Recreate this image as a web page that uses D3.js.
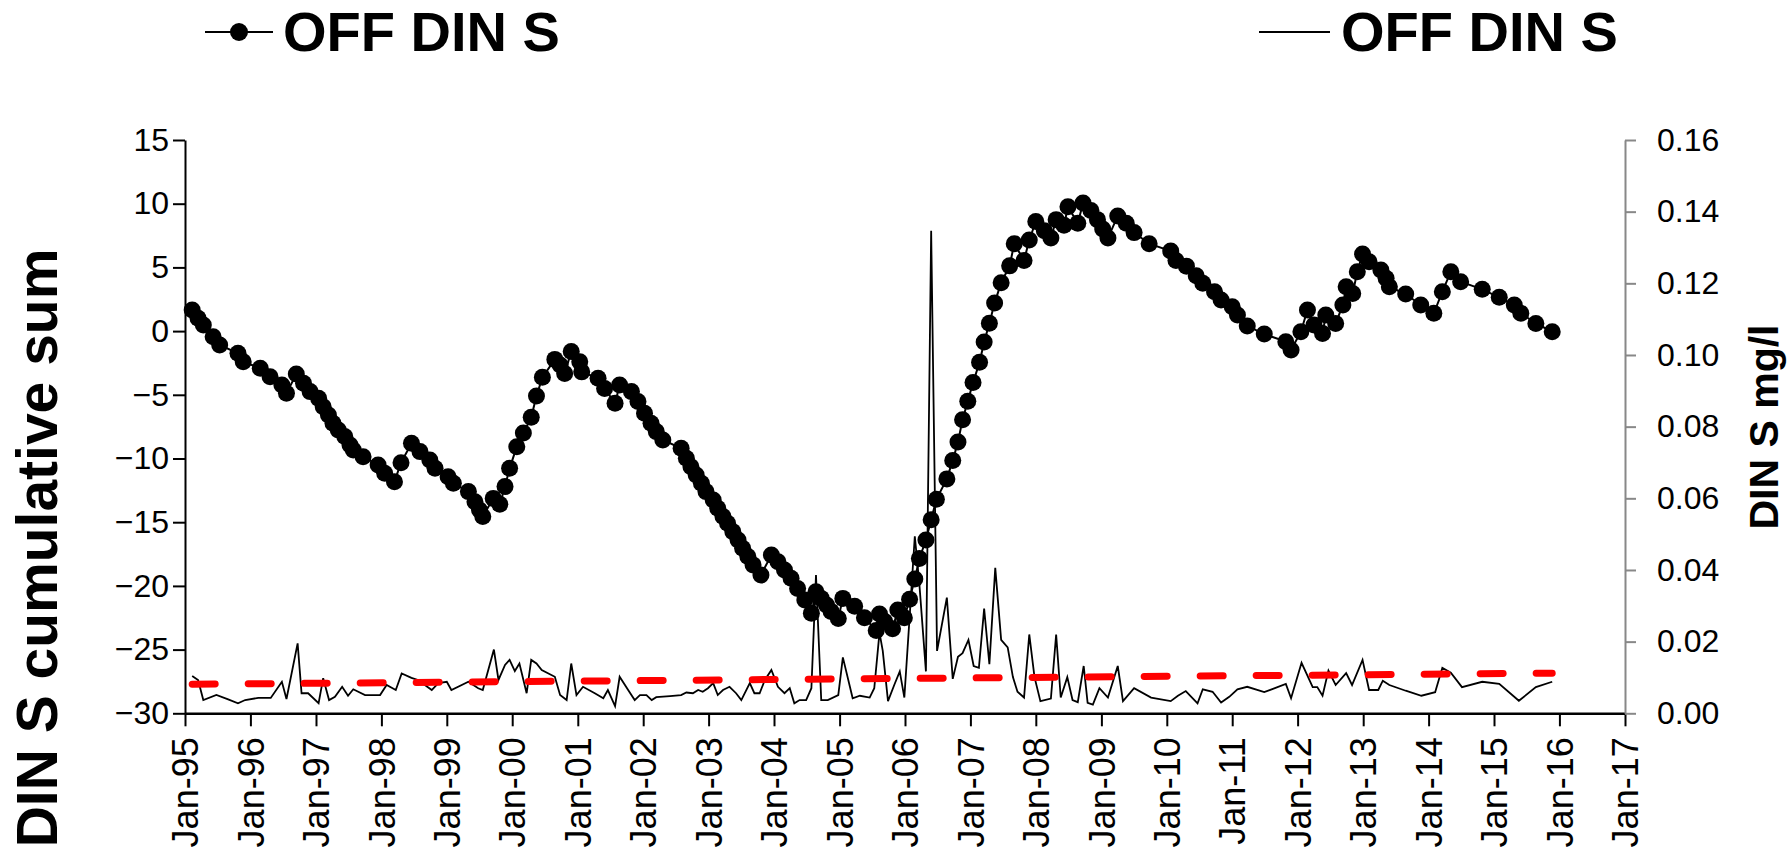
<!DOCTYPE html>
<html><head><meta charset="utf-8">
<script src="https://cdn.jsdelivr.net/npm/d3@7"></script>
<style>
html,body{margin:0;padding:0;background:#fff;}
svg{display:block;font-family:"Liberation Sans",Arial,sans-serif;}
</style></head><body>
<svg id="chart" width="1787" height="861"></svg>
<script>
// ---- data (decimal years) ----
const cusumDates = [1995.11,1995.20,1995.28,1995.43,1995.53,1995.81,1995.89,1996.15,1996.30,1996.48,1996.55,1996.70,1996.81,1996.91,1997.04,1997.11,1997.19,1997.26,1997.34,1997.44,1997.52,1997.57,1997.72,1997.95,1998.05,1998.20,1998.30,1998.46,1998.59,1998.74,1998.82,1999.02,1999.10,1999.33,1999.43,1999.50,1999.55,1999.71,1999.81,1999.89,1999.96,2000.07,2000.17,2000.29,2000.37,2000.46,2000.65,2000.73,2000.80,2000.90,2001.03,2001.06,2001.31,2001.41,2001.57,2001.64,2001.82,2001.92,2002.02,2002.12,2002.20,2002.30,2002.58,2002.66,2002.73,2002.81,2002.89,2002.96,2003.07,2003.14,2003.22,2003.29,2003.37,2003.45,2003.52,2003.60,2003.68,2003.80,2003.96,2004.06,2004.16,2004.26,2004.36,2004.47,2004.57,2004.64,2004.72,2004.80,2004.87,2004.98,2005.05,2005.23,2005.38,2005.56,2005.61,2005.69,2005.81,2005.89,2005.99,2006.07,2006.15,2006.22,2006.32,2006.40,2006.48,2006.64,2006.73,2006.81,2006.88,2006.96,2007.04,2007.14,2007.21,2007.29,2007.37,2007.47,2007.60,2007.67,2007.82,2007.90,2008.00,2008.13,2008.23,2008.31,2008.43,2008.49,2008.64,2008.72,2008.84,2008.94,2009.02,2009.10,2009.25,2009.38,2009.50,2009.73,2010.06,2010.14,2010.30,2010.45,2010.55,2010.73,2010.83,2011.00,2011.08,2011.23,2011.49,2011.82,2011.90,2012.05,2012.15,2012.25,2012.38,2012.43,2012.58,2012.69,2012.74,2012.84,2012.91,2012.99,2013.09,2013.27,2013.35,2013.40,2013.65,2013.88,2014.08,2014.21,2014.34,2014.49,2014.82,2015.08,2015.31,2015.41,2015.64,2015.89];
const cusumValues = [1.66,1.0,0.48,-0.44,-1.09,-1.74,-2.4,-2.92,-3.58,-4.23,-4.88,-3.37,-4.1,-4.75,-5.28,-5.93,-6.58,-7.24,-7.76,-8.28,-8.94,-9.33,-9.86,-10.51,-11.16,-11.82,-10.33,-8.81,-9.46,-10.12,-10.77,-11.43,-11.95,-12.6,-13.4,-14.04,-14.56,-13.13,-13.6,-12.2,-10.77,-9.07,-8.0,-6.77,-5.09,-3.63,-2.22,-2.66,-3.32,-1.61,-2.4,-3.2,-3.7,-4.5,-5.67,-4.23,-4.75,-5.53,-6.45,-7.24,-7.89,-8.55,-9.2,-9.98,-10.64,-11.29,-11.95,-12.6,-13.25,-13.9,-14.56,-15.08,-15.74,-16.39,-17.05,-17.7,-18.35,-19.14,-17.57,-18.1,-18.75,-19.4,-20.2,-21.1,-22.15,-20.46,-20.98,-21.5,-22.0,-22.55,-20.98,-21.6,-22.5,-23.5,-22.2,-22.8,-23.37,-21.9,-22.5,-21.05,-19.45,-17.85,-16.4,-14.8,-13.2,-11.6,-10.15,-8.7,-6.95,-5.5,-4.04,-2.44,-0.85,0.61,2.2,3.8,5.12,6.86,5.55,7.15,8.6,7.88,7.3,8.75,8.31,9.76,8.46,10.05,9.47,8.75,8.02,7.3,9.04,8.46,7.73,6.86,6.28,5.55,5.1,4.35,3.75,3.09,2.44,1.92,1.26,0.4,-0.23,-0.83,-1.48,-0.05,1.66,0.48,-0.18,1.26,0.6,2.05,3.49,2.96,4.66,6.05,5.45,4.8,4.14,3.49,2.91,2.05,1.4,3.09,4.66,3.88,3.28,2.65,2.05,1.4,0.6,-0.05];

const dinDates = [1995.11,1995.20,1995.28,1995.48,1995.66,1995.81,1995.92,1996.12,1996.31,1996.48,1996.55,1996.72,1996.78,1996.88,1997.04,1997.11,1997.20,1997.29,1997.40,1997.49,1997.57,1997.75,1997.98,1998.08,1998.22,1998.31,1998.46,1998.56,1998.77,1998.87,1999.00,1999.07,1999.33,1999.48,1999.55,1999.72,1999.79,1999.89,1999.96,2000.04,2000.11,2000.22,2000.29,2000.37,2000.45,2000.65,2000.73,2000.83,2000.90,2000.98,2001.08,2001.26,2001.39,2001.46,2001.57,2001.64,2001.77,2001.87,2001.95,2002.05,2002.13,2002.20,2002.41,2002.58,2002.66,2002.76,2002.84,2002.91,2002.99,2003.07,2003.14,2003.22,2003.32,2003.42,2003.50,2003.63,2003.70,2003.78,2003.86,2003.96,2004.06,2004.16,2004.24,2004.31,2004.39,2004.49,2004.57,2004.64,2004.72,2004.82,2004.98,2005.05,2005.20,2005.31,2005.46,2005.53,2005.61,2005.66,2005.74,2005.84,2005.92,2005.99,2006.07,2006.15,2006.22,2006.32,2006.40,2006.49,2006.64,2006.73,2006.81,2006.88,2006.97,2007.05,2007.13,2007.21,2007.29,2007.38,2007.47,2007.57,2007.65,2007.72,2007.82,2007.90,2007.98,2008.07,2008.23,2008.31,2008.38,2008.48,2008.56,2008.64,2008.73,2008.79,2008.87,2008.97,2009.10,2009.25,2009.33,2009.50,2009.76,2010.06,2010.17,2010.29,2010.47,2010.55,2010.70,2010.83,2010.955,2011.08,2011.23,2011.49,2011.82,2011.90,2012.06,2012.23,2012.30,2012.38,2012.47,2012.58,2012.74,2012.83,2012.99,2013.09,2013.23,2013.30,2013.40,2013.65,2013.89,2014.10,2014.21,2014.34,2014.51,2014.82,2015.08,2015.38,2015.64,2015.89];
const dinValues = [0.0104,0.0093,0.0037,0.0051,0.0039,0.0028,0.0037,0.0043,0.0043,0.0088,0.0040,0.0195,0.0056,0.0056,0.0028,0.0098,0.0037,0.0046,0.0074,0.0049,0.0067,0.0051,0.0051,0.0079,0.0065,0.0111,0.0099,0.0093,0.0065,0.0084,0.0088,0.0065,0.0088,0.0070,0.0065,0.0178,0.0093,0.0135,0.0149,0.0118,0.0139,0.0056,0.0149,0.0139,0.0121,0.0102,0.0051,0.0037,0.0139,0.0051,0.0074,0.0056,0.0042,0.0065,0.0020,0.0102,0.0065,0.0037,0.0051,0.0051,0.0037,0.0045,0.0048,0.0051,0.0058,0.0056,0.0065,0.0060,0.0070,0.0084,0.0051,0.0065,0.0074,0.0056,0.0037,0.0084,0.0056,0.0056,0.0093,0.0121,0.0074,0.0056,0.0070,0.0028,0.0037,0.0037,0.0070,0.0386,0.0037,0.0037,0.0051,0.0156,0.0042,0.0049,0.0044,0.0070,0.0225,0.0174,0.0034,0.0081,0.0117,0.0044,0.0267,0.0494,0.0360,0.0117,0.1347,0.0174,0.0323,0.0096,0.0158,0.0168,0.0205,0.0132,0.0127,0.0292,0.0137,0.0406,0.0205,0.0184,0.0101,0.0060,0.0044,0.0220,0.0101,0.0034,0.0041,0.0220,0.0044,0.0101,0.0037,0.0031,0.0132,0.0029,0.0024,0.0070,0.0044,0.0132,0.0034,0.0070,0.0044,0.0034,0.0049,0.0062,0.0028,0.0067,0.0060,0.0030,0.0046,0.0067,0.0074,0.0059,0.0082,0.0042,0.0141,0.0073,0.0073,0.0049,0.0119,0.0079,0.0112,0.0079,0.0149,0.0065,0.0065,0.0091,0.0079,0.0063,0.0049,0.0059,0.0127,0.0113,0.0073,0.0088,0.0082,0.0035,0.0073,0.0088];

const trendDates = [1995.11, 2015.89];
const trendValues = [0.0081, 0.0112];

const leftTicks = [15,10,5,0,-5,-10,-15,-20,-25,-30];
const rightTicks = [0,0.02,0.04,0.06,0.08,0.10,0.12,0.14,0.16];
const xTickYears = [1995,1996,1997,1998,1999,2000,2001,2002,2003,2004,2005,2006,2007,2008,2009,2010,2011,2012,2013,2014,2015,2016,2017];
const legendNames = ["OFF DIN S","OFF DIN S"];
const leftTitle = "DIN S cumulative sum";
const rightTitle = "DIN S mg/l";

// ---- helpers ----
function toDate(dy){
  const y = Math.floor(dy);
  const s = new Date(y,0,1), e = new Date(y+1,0,1);
  return new Date(s.getTime() + (dy - y) * (e - s));
}

const svg = d3.select("#chart");
const L = 185, R = 1625, T = 140, B = 713.3;

const x = d3.scaleTime().domain([new Date(1995,0,1), new Date(2017,0,1)]).range([L, R]);
const yL = d3.scaleLinear().domain([-30, 15]).range([B, T]);
const yR = d3.scaleLinear().domain([0, 0.16]).range([B, T]);

// ---- axes ----
const fmt = d3.timeFormat("%b-%y");
const gx = svg.append("g").attr("transform", `translate(0,${B})`)
  .call(d3.axisBottom(x).tickValues(xTickYears.map(y => new Date(y,0,1))).tickFormat(fmt).tickSize(13).tickSizeOuter(0));
gx.select(".domain").attr("stroke","#000").attr("stroke-width",2.5);
gx.selectAll(".tick line").attr("stroke","#000").attr("stroke-width",2);
gx.selectAll(".tick text")
  .attr("font-size", 36).attr("fill","#000")
  .attr("text-anchor","end")
  .attr("transform","rotate(-90)")
  .attr("x", -24).attr("y", 0).attr("dy","0.35em");

const gl = svg.append("g").attr("transform", `translate(${L},0)`)
  .call(d3.axisLeft(yL).tickValues(leftTicks).tickFormat(d3.format("d")).tickSize(12).tickSizeOuter(0).tickPadding(4));
gl.select(".domain").attr("stroke","#000").attr("stroke-width",2);
gl.selectAll(".tick line").attr("stroke","#000").attr("stroke-width",2);
gl.selectAll(".tick text").attr("font-size",32).attr("fill","#000");

const gr = svg.append("g").attr("transform", `translate(${R},0)`)
  .call(d3.axisRight(yR).tickValues(rightTicks).tickFormat(d3.format(".2f")).tickSize(11).tickSizeOuter(0).tickPadding(21));
gr.select(".domain").attr("stroke","#888").attr("stroke-width",2);
gr.selectAll(".tick line").attr("stroke","#888").attr("stroke-width",2);
gr.selectAll(".tick text").attr("font-size",32).attr("fill","#000");

// ---- series ----
const din = dinDates.map((d,i) => ({d: toDate(d), v: dinValues[i]}));
const cus = cusumDates.map((d,i) => ({d: toDate(d), v: cusumValues[i]}));
const trend = trendDates.map((d,i) => ({d: toDate(d), v: trendValues[i]}));

svg.append("path").datum(din)
  .attr("fill","none").attr("stroke","#000").attr("stroke-width",1.8).attr("stroke-linejoin","miter")
  .attr("d", d3.line().x(p => x(p.d)).y(p => yR(p.v)));

svg.append("path").datum(trend)
  .attr("fill","none").attr("stroke","#ff0000").attr("stroke-width",7)
  .attr("stroke-linecap","round").attr("stroke-dasharray","23 33")
  .attr("d", d3.line().x(p => x(p.d)).y(p => yR(p.v)));

svg.append("path").datum(cus)
  .attr("fill","none").attr("stroke","#000").attr("stroke-width",2)
  .attr("d", d3.line().x(p => x(p.d)).y(p => yL(p.v)));
svg.append("g").selectAll("circle").data(cus).join("circle")
  .attr("cx", p => x(p.d)).attr("cy", p => yL(p.v)).attr("r", 8.5).attr("fill","#000");

// ---- axis titles ----
svg.append("text").attr("transform","translate(57,548) rotate(-90)")
  .attr("text-anchor","middle").attr("font-size",57).attr("font-weight","bold").text(leftTitle);
svg.append("text").attr("transform","translate(1778,427) rotate(-90)")
  .attr("text-anchor","middle").attr("font-size",41).attr("font-weight","bold").text(rightTitle);

// ---- legend ----
const lg = svg.append("g");
lg.append("line").attr("x1",205).attr("x2",273).attr("y1",32).attr("y2",32).attr("stroke","#000").attr("stroke-width",2);
lg.append("circle").attr("cx",239).attr("cy",32).attr("r",9).attr("fill","#000");
lg.append("text").attr("x",283).attr("y",51).attr("font-size",56).attr("font-weight","bold").text(legendNames[0]);
lg.append("line").attr("x1",1259).attr("x2",1330).attr("y1",32).attr("y2",32).attr("stroke","#000").attr("stroke-width",2);
lg.append("text").attr("x",1341).attr("y",51).attr("font-size",56).attr("font-weight","bold").text(legendNames[1]);
</script>
</body></html>
